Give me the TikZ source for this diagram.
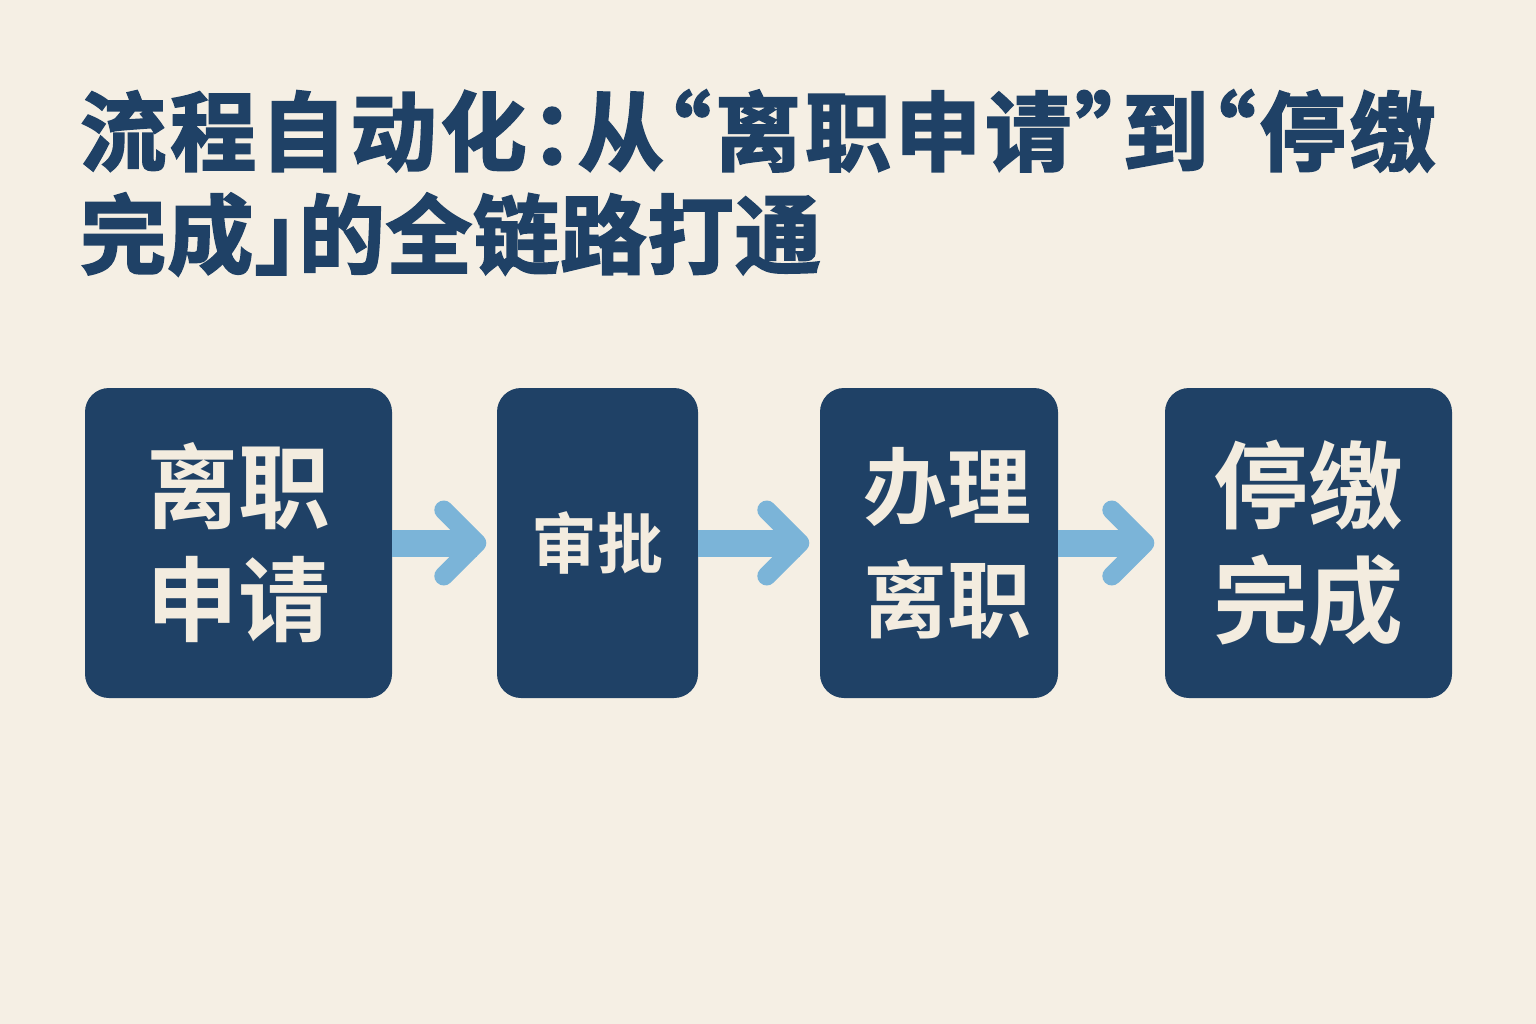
\documentclass[tikz,border=0pt]{standalone}
\usepackage{fontspec}
\setmainfont{Noto Sans CJK SC}[BoldFont={Noto Sans CJK SC Bold}]
\newfontfamily\titlefont{Noto Sans CJK SC Bold}[FakeBold=2.5]
\newfontfamily\halfpunct{Noto Sans CJK SC Bold}[FakeBold=2.5,RawFeature=+halt]
\newcommand{\hp}[1]{{\halfpunct #1}}
\newlength{\trk}
\newcommand{\tk}{\kern\trk}
\usetikzlibrary{calc}
\definecolor{bg}{HTML}{F5EFE4}
\definecolor{navy}{HTML}{1F4166}
\definecolor{sky}{HTML}{7BB4D8}
\definecolor{cream}{HTML}{F3ECDF}
\begin{document}
\begin{tikzpicture}[x=1pt,y=-1pt,
  titletext/.style={inner sep=0pt, anchor=base west, text=navy, font=\titlefont\fontsize{86}{100}\selectfont},
  stepbox/.style={fill=navy, rounded corners=24pt, inner sep=0pt, minimum height=310pt, text=cream, align=center},
  shaft/.style={draw=sky, line width=27pt},
  chev/.style={draw=sky, line width=19pt, line cap=round, line join=round}
]
\fill[bg] (0,0) rectangle (1536,1024);
\useasboundingbox (0,0) rectangle (1536,1024);
\node[titletext] (t1) at (80,164) {\setlength{\trk}{4.1pt}流\tk{}程\tk{}自\tk{}动\tk{}化\tk{}\hp{：}\tk{}从\tk{}\hp{“}\tk{}离\tk{}职\tk{}申\tk{}请\tk{}\hp{”}\tk{}到\tk{}\hp{“}\tk{}停\tk{}缴};
\node[titletext] (t2) at (80,267) {\setlength{\trk}{1.2pt}完\tk{}成\tk{}\hp{」}\tk{}的\tk{}全\tk{}链\tk{}路\tk{}打\tk{}通};
\node[stepbox, minimum width=307pt, font=\bfseries\fontsize{92}{113}\selectfont] (b1) at (238.5,543) {离职\\申请};
\node[stepbox, minimum width=201pt, font=\bfseries\fontsize{66}{80}\selectfont] (b2) at (597.5,543) {审批};
\node[stepbox, minimum width=238pt, font=\bfseries\fontsize{84}{113}\selectfont] (b3) at (939,543) {\hspace*{16pt}办理\\\hspace*{16pt}离职};
\node[stepbox, minimum width=287pt, font=\bfseries\fontsize{95}{115}\selectfont] (b4) at (1308.5,543) {停缴\\完成};
\foreach \a/\b in {b1/b2,b2/b3,b3/b4}{
  \coordinate (tip-\a) at ($(\b.west)+(-20,0)$);
  \draw[shaft] (\a.east) -- (tip-\a);
  \draw[chev] ($(tip-\a)+(-33,-33)$) -- (tip-\a) -- ($(tip-\a)+(-33,33)$);
}
\end{tikzpicture}
\end{document}
